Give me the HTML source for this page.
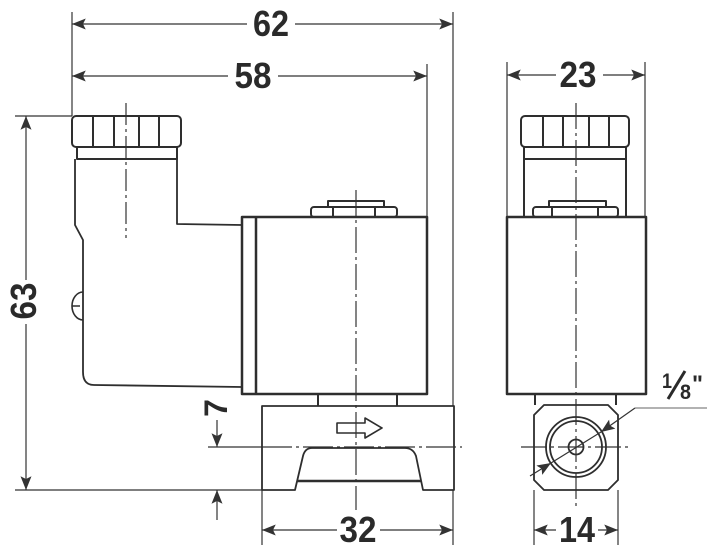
<!DOCTYPE html>
<html><head><meta charset="utf-8"><style>
html,body{margin:0;padding:0;background:#fff;}
svg{display:block;}
text{font-family:"Liberation Sans",sans-serif;font-weight:bold;fill:#2a2a2a;}
</style></head><body>
<svg width="716" height="555" viewBox="0 0 716 555" xmlns="http://www.w3.org/2000/svg">
<defs>
<marker id="a" viewBox="0 0 10 8" refX="10" refY="4" markerWidth="14" markerHeight="11" markerUnits="userSpaceOnUse" orient="auto-start-reverse"><path d="M0,0 L10,4 L0,8 L2,4 z" fill="#333"/></marker>
</defs>
<g stroke="#333" stroke-width="1.2" fill="none">
<line x1="72" y1="12" x2="72" y2="116"/>
<line x1="453" y1="12" x2="453" y2="406"/>
<line x1="427" y1="64" x2="427" y2="217"/>
<line x1="15" y1="116" x2="72" y2="116"/>
<line x1="15" y1="490" x2="262" y2="490"/>
<line x1="262" y1="490" x2="262" y2="545"/>
<line x1="453" y1="490" x2="453" y2="545"/>
<line x1="507" y1="62" x2="507" y2="217"/>
<line x1="645" y1="62" x2="645" y2="217"/>
<line x1="534" y1="490" x2="534" y2="545"/>
<line x1="618" y1="490" x2="618" y2="545"/>
<line x1="72" y1="24" x2="247" y2="24" marker-start="url(#a)"/>
<line x1="295" y1="24" x2="453" y2="24" marker-end="url(#a)"/>
<line x1="72" y1="76" x2="228" y2="76" marker-start="url(#a)"/>
<line x1="278" y1="76" x2="427" y2="76" marker-end="url(#a)"/>
<line x1="507" y1="75" x2="556" y2="75" marker-start="url(#a)"/>
<line x1="603" y1="75" x2="645" y2="75" marker-end="url(#a)"/>
<line x1="26" y1="116" x2="26" y2="280" marker-start="url(#a)"/>
<line x1="26" y1="324" x2="26" y2="490" marker-end="url(#a)"/>
<line x1="262" y1="530" x2="337" y2="530" marker-start="url(#a)"/>
<line x1="380" y1="530" x2="453" y2="530" marker-end="url(#a)"/>
<line x1="534" y1="530" x2="556" y2="530" marker-start="url(#a)"/>
<line x1="598" y1="530" x2="618" y2="530" marker-end="url(#a)"/>
<line x1="217" y1="420" x2="217" y2="447" marker-end="url(#a)"/>
<line x1="217" y1="520" x2="217" y2="490" marker-end="url(#a)"/>
<line x1="208" y1="447" x2="262" y2="447"/>
<line x1="126" y1="103" x2="126" y2="238" stroke-dasharray="22,4,3,4"/>
<line x1="356" y1="190" x2="356" y2="510" stroke-dasharray="26,4,3,4"/>
<line x1="262" y1="447" x2="462" y2="447" stroke-dasharray="30,4,3,4"/>
<line x1="576" y1="103" x2="576" y2="510" stroke-dasharray="26,4,3,4"/>
<line x1="521" y1="447" x2="630" y2="447" stroke-dasharray="26,4,3,4"/>
</g>
<g stroke="#2e2e2e" stroke-width="2" fill="none" stroke-linejoin="round">
<rect x="72" y="116" width="109" height="31" rx="4"/>
<line x1="93" y1="116" x2="93" y2="147"/><line x1="114" y1="116" x2="114" y2="147"/>
<line x1="139" y1="116" x2="139" y2="147"/><line x1="159" y1="116" x2="159" y2="147"/>
<rect x="77" y="147" width="100" height="12"/>
<path d="M75,159 L75,225 L83,240 L83,372 Q83,385 94,385 L242,387" stroke-width="1.8"/>
<path d="M177,159 L177,224 L242,225" stroke-width="1.8"/>
<path d="M83,292 A11,14 0 0,0 83,320 M72,306 L80,306" stroke-width="1.6"/>
<rect x="242" y="217" width="185" height="177" stroke-width="2.5"/>
<line x1="256" y1="217" x2="256" y2="394" stroke-width="2.5"/>
<rect x="311" y="207" width="86" height="10" rx="3"/>
<line x1="333" y1="207" x2="333" y2="217"/><line x1="375" y1="207" x2="375" y2="217"/>
<rect x="328" y="201" width="56" height="6"/>
<line x1="318" y1="394" x2="318" y2="406"/><line x1="397" y1="394" x2="397" y2="406"/>
<path d="M262,406 L454,406 L454,490 L423,490 L416,456 Q413,448 405,448 L312,448 Q305,448 303,456 L295,490 L262,490 Z" stroke-width="1.8"/>
<line x1="297" y1="481" x2="421" y2="481" stroke-width="2.5"/>
<path d="M337,423 L365,423 L365,418 L382,428 L365,438 L365,433 L337,433 Z" stroke-width="1.6"/>
<rect x="521" y="116" width="108" height="31" rx="4"/>
<line x1="543" y1="116" x2="543" y2="147"/><line x1="563" y1="116" x2="563" y2="147"/>
<line x1="589" y1="116" x2="589" y2="147"/><line x1="609" y1="116" x2="609" y2="147"/>
<rect x="524" y="147" width="102" height="12"/>
<line x1="524" y1="159" x2="524" y2="217"/><line x1="626" y1="159" x2="626" y2="217"/>
<rect x="533" y="207" width="85" height="10" rx="3"/>
<line x1="552" y1="207" x2="552" y2="217"/><line x1="598" y1="207" x2="598" y2="217"/>
<rect x="549" y="201" width="57" height="6"/>
<rect x="507" y="217" width="139" height="177" stroke-width="2.5"/>
<line x1="535" y1="394" x2="535" y2="405"/><line x1="616" y1="394" x2="616" y2="405"/>
<path d="M544,405 L608,405 L618,415 L618,480 L608,490 L544,490 L534,480 L534,415 Z" stroke-width="1.8"/>
<circle cx="576" cy="447" r="30" stroke-width="1.8"/>
<circle cx="576" cy="447" r="26" stroke-width="1.8"/>
<circle cx="576" cy="447" r="7.5" stroke-width="1.8"/>
</g>
<g stroke="#333" stroke-width="1.2" fill="none">
<line x1="635" y1="408" x2="707" y2="408" stroke="#999" stroke-width="1.5"/>
<line x1="635" y1="408" x2="601" y2="432" marker-end="url(#a)"/>
<line x1="601" y1="432" x2="551" y2="463"/>
<line x1="530" y1="476" x2="551" y2="463" marker-end="url(#a)"/>
</g>
<text x="271" y="36" font-size="36" text-anchor="middle" textLength="36" lengthAdjust="spacingAndGlyphs">62</text>
<text x="253" y="88" font-size="36" text-anchor="middle" textLength="37" lengthAdjust="spacingAndGlyphs">58</text>
<text x="578" y="87" font-size="36" text-anchor="middle" textLength="37" lengthAdjust="spacingAndGlyphs">23</text>
<text x="358" y="542" font-size="36" text-anchor="middle" textLength="37" lengthAdjust="spacingAndGlyphs">32</text>
<text x="577" y="542" font-size="36" text-anchor="middle" textLength="36" lengthAdjust="spacingAndGlyphs">14</text>
<text transform="translate(36,301) rotate(-90)" font-size="36" text-anchor="middle" textLength="37" lengthAdjust="spacingAndGlyphs">63</text>
<text transform="translate(227,408) rotate(-90)" font-size="32" text-anchor="middle">7</text>
<text x="662" y="388" font-size="21" textLength="10" lengthAdjust="spacingAndGlyphs">1</text>
<line x1="668" y1="399" x2="685" y2="371" stroke="#2a2a2a" stroke-width="3"/>
<text x="680" y="399" font-size="21" textLength="11" lengthAdjust="spacingAndGlyphs">8</text>
<text x="692" y="392" font-size="24" textLength="11" lengthAdjust="spacingAndGlyphs">"</text>
</svg>
</body></html>
